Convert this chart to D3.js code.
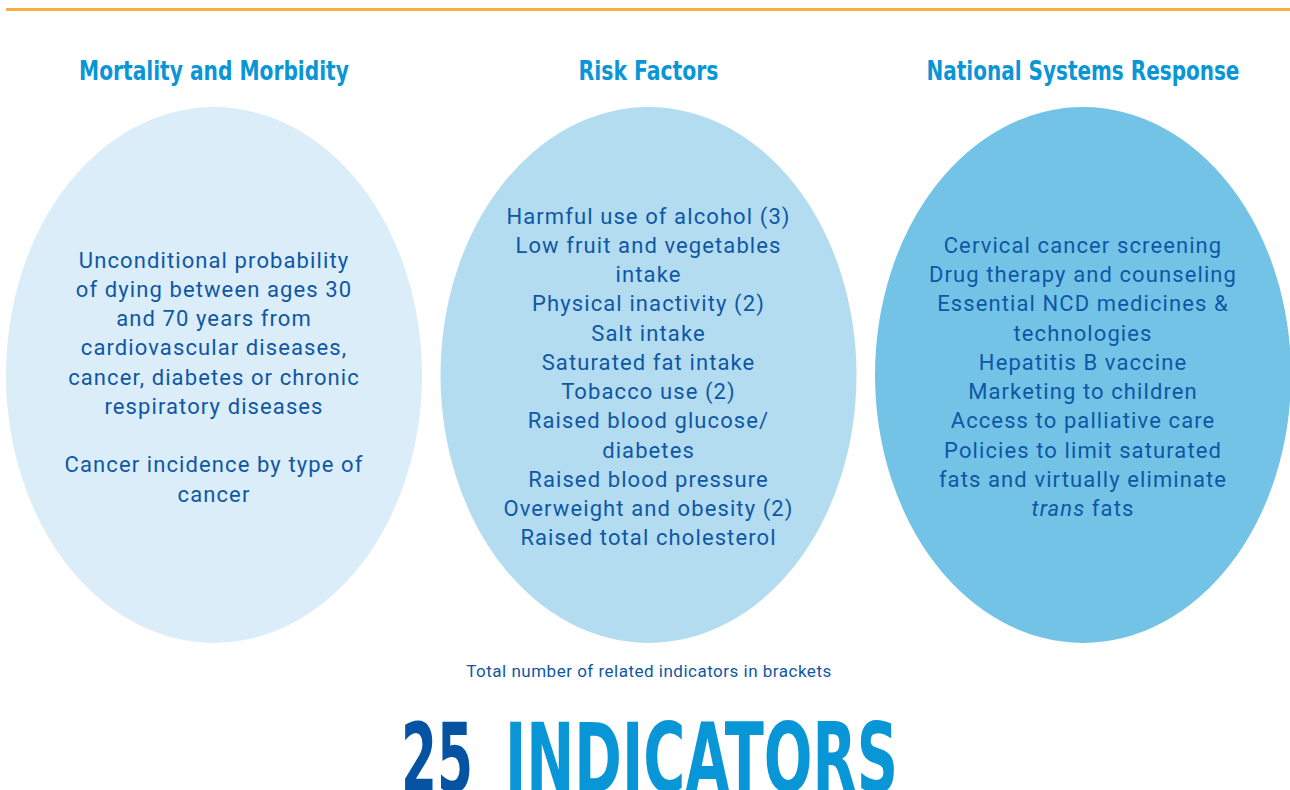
<!DOCTYPE html>
<html>
<head>
<meta charset="utf-8">
<script src="https://cdn.jsdelivr.net/npm/d3@7"></script>
<style>
  body { margin: 0; background: #fff; }
  svg { display: block; }
</style>
</head>
<body>
<div id="chart"></div>
<script>
var width = 1290;
var height = 790;

// the three groups of indicators
var categories = ["Mortality and Morbidity", "Risk Factors", "National Systems Response"];
var fills = ["#daedf8", "#b3dcf1", "#72c3e6"];
var headingWidths = [270, 140, 313];

var mortalityLines = [
  "Unconditional probability",
  "of dying between ages 30",
  "and 70 years from",
  "cardiovascular diseases,",
  "cancer, diabetes or chronic",
  "respiratory diseases",
  "",
  "Cancer incidence by type of",
  "cancer"
];
var riskLines = [
  "Harmful use of alcohol (3)",
  "Low fruit and vegetables",
  "intake",
  "Physical inactivity (2)",
  "Salt intake",
  "Saturated fat intake",
  "Tobacco use (2)",
  "Raised blood glucose/",
  "diabetes",
  "Raised blood pressure",
  "Overweight and obesity (2)",
  "Raised total cholesterol"
];
var systemsLines = [
  "Cervical cancer screening",
  "Drug therapy and counseling",
  "Essential NCD medicines &",
  "technologies",
  "Hepatitis B vaccine",
  "Marketing to children",
  "Access to palliative care",
  "Policies to limit saturated",
  "fats and virtually eliminate",
  "_trans_ fats"
];
var groupLines = [mortalityLines, riskLines, systemsLines];

var footnote = "Total number of related indicators in brackets";
var totalCount = "25";
var totalLabel = "INDICATORS";

var svg = d3.select("#chart").append("svg")
  .attr("width", width)
  .attr("height", height);

// squeeze a text horizontally to a given width (condensed headline look)
function fitWidth(sel, w) {
  sel.each(function() {
    var len = this.getComputedTextLength();
    d3.select(this).attr("transform", "scale(" + (w / len) + ",1)");
  });
}

// orange rule at the top
svg.append("line")
  .attr("x1", 6).attr("x2", width)
  .attr("y1", 9.5).attr("y2", 9.5)
  .attr("stroke", "#fbad3f")
  .attr("stroke-width", 3);

var x = d3.scalePoint().domain(categories).range([214, 1083]);
var rx = 208, ry = 268, cy = 375;
var lineHeight = 29.25;
var textMid = 384.5;

var groups = svg.selectAll(".group")
  .data(categories)
  .enter().append("g")
  .attr("class", "group")
  .attr("transform", function(d) { return "translate(" + x(d) + ",0)"; });

groups.append("ellipse")
  .attr("cx", 0).attr("cy", cy)
  .attr("rx", rx).attr("ry", ry)
  .attr("fill", function(d, i) { return fills[i]; });

groups.append("text")
  .attr("x", 0).attr("y", 80)
  .attr("text-anchor", "middle")
  .attr("font-family", "'DejaVu Sans Condensed', 'DejaVu Sans', sans-serif")
  .attr("font-weight", "bold")
  .attr("font-size", 26)
  .attr("fill", "#0a96d6")
  .text(function(d) { return d; })
  .each(function(d, i) { fitWidth(d3.select(this), headingWidths[i]); });

groups.each(function(d, i) {
  var lines = groupLines[i];
  var y0 = textMid - (lines.length - 1) * lineHeight / 2;
  var t = d3.select(this).append("text")
    .attr("text-anchor", "middle")
    .attr("font-family", "Roboto, sans-serif")
    .attr("font-size", 22)
    .attr("letter-spacing", 1.1)
    .attr("fill", "#0f57a5");
  lines.forEach(function(line, j) {
    if (!line) return;
    var row = t.append("tspan").attr("x", 0).attr("y", y0 + j * lineHeight);
    // underscores mark italic words
    line.split("_").forEach(function(part, k) {
      if (!part) return;
      row.append("tspan")
        .attr("font-style", k % 2 ? "italic" : null)
        .text(part);
    });
  });
});

svg.append("text")
  .attr("x", 649).attr("y", 676.5)
  .attr("text-anchor", "middle")
  .attr("font-family", "Roboto, sans-serif")
  .attr("font-size", 17)
  .attr("letter-spacing", 0.5)
  .attr("fill", "#0f57a5")
  .text(footnote);

// big total at the bottom, cut by the lower edge as in the source
var bigParts = [
  { text: totalCount, x: 401, w: 72, fill: "#0553a2" },
  { text: totalLabel, x: 505, w: 393, fill: "#0896d6" }
];
svg.selectAll(".big")
  .data(bigParts)
  .enter().append("g")
  .attr("class", "big")
  .attr("transform", function(d) { return "translate(" + d.x + ",792)"; })
  .append("text")
  .attr("font-family", "'DejaVu Sans Condensed', 'DejaVu Sans', sans-serif")
  .attr("font-weight", "bold")
  .attr("font-size", 96)
  .attr("fill", function(d) { return d.fill; })
  .text(function(d) { return d.text; })
  .each(function(d) { fitWidth(d3.select(this), d.w); });
</script>
</body>
</html>
